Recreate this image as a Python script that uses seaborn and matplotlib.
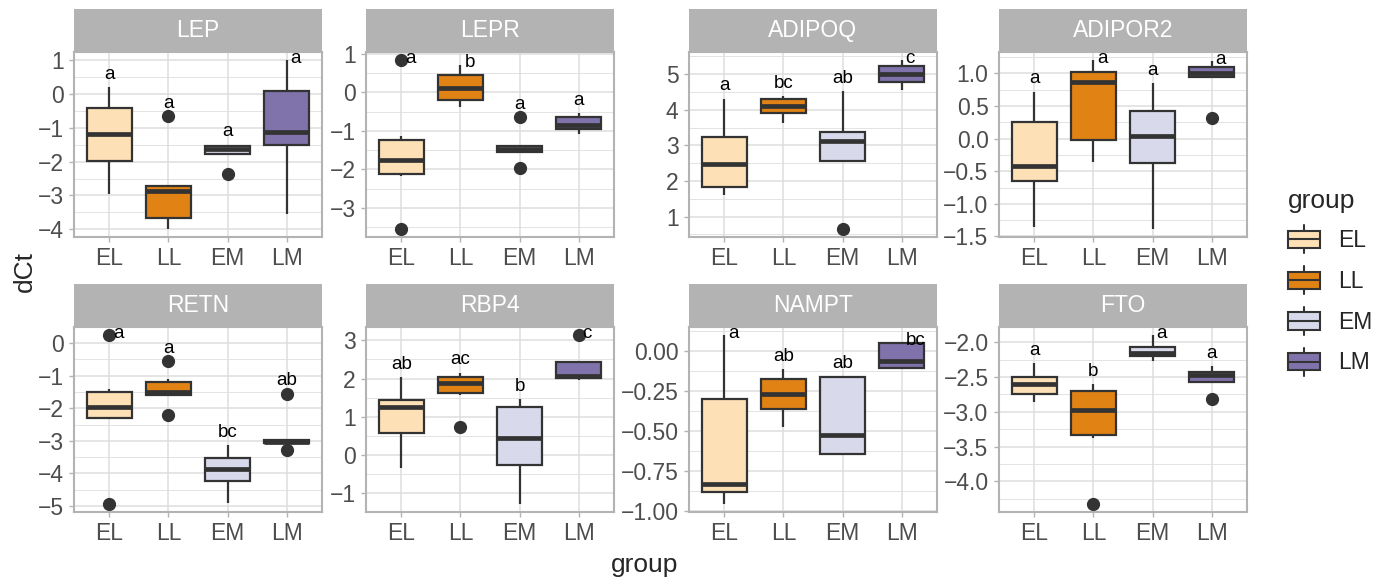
import pandas as pd
import matplotlib
matplotlib.use("Agg")
import matplotlib.pyplot as plt
import seaborn as sns
from matplotlib.patches import Patch, Rectangle
from matplotlib.lines import Line2D
from matplotlib.legend_handler import HandlerBase
from matplotlib.ticker import MultipleLocator, FuncFormatter

groups = ["EL", "LL", "EM", "LM"]
colors = ["#fee0b6", "#e08214", "#d8daeb", "#8073ac"]
genes = ["LEP", "LEPR", "ADIPOQ", "ADIPOR2", "RETN", "RBP4", "NAMPT", "FTO"]

# dCt values per gene, one list per group (EL, LL, EM, LM)
LEP = [[-2.95, -1.97, -1.18, -0.4, 0.2],
       [-3.98, -3.68, -2.87, -2.72, -0.65],
       [-2.35, -1.77, -1.62, -1.53, -1.5],
       [-3.55, -1.5, -1.13, 0.08, 1.0]]
LEPR = [[-3.54, -2.17, -2.13, -1.95, -1.77, -1.5, -1.25, -1.13, 0.83],
        [-0.38, -0.2, 0.11, 0.44, 0.72],
        [-1.97, -1.54, -1.47, -1.39, -0.65],
        [-1.07, -0.96, -0.85, -0.64, -0.54]]
ADIPOQ = [[1.6, 1.84, 2.48, 3.23, 4.31],
          [3.64, 3.91, 4.1, 4.3, 4.39],
          [0.66, 2.57, 3.12, 3.39, 4.53],
          [4.57, 4.77, 5.0, 5.22, 5.39]]
ADIPOR2 = [[-1.35, -0.65, -0.42, 0.26, 0.72],
           [-0.36, -0.02, 0.87, 1.02, 1.2],
           [-1.38, -0.37, 0.04, 0.42, 0.85],
           [0.32, 0.95, 1.0, 1.1, 1.19]]
RETN = [[-4.93, -2.33, -2.3, -2.1, -1.96, -1.7, -1.51, -1.42, 0.24],
        [-2.22, -1.58, -1.58, -1.53, -1.49, -1.3, -1.19, -1.11, -0.56],
        [-4.9, -4.23, -3.87, -3.53, -3.14],
        [-3.28, -3.08, -3.03, -2.98, -1.55]]
RBP4 = [[-0.35, 0.57, 1.25, 1.44, 2.04],
        [0.72, 1.58, 1.61, 1.75, 1.89, 1.95, 2.03, 2.12, 2.15],
        [-1.28, -0.26, 0.45, 1.25, 1.45],
        [1.95, 2.02, 2.07, 2.43, 3.13]]
NAMPT = [[-0.956, -0.884, -0.836, -0.3, 0.095],
         [-0.475, -0.363, -0.27, -0.18, -0.115],
         [-0.643, -0.643, -0.525, -0.168, -0.16],
         [-0.111, -0.111, -0.065, 0.046, 0.053]]
FTO = [[-2.86, -2.74, -2.6, -2.5, -2.3],
       [-4.32, -3.37, -3.33, -3.15, -2.98, -2.8, -2.7, -2.64, -2.6],
       [-2.27, -2.2, -2.16, -2.07, -1.9],
       [-2.81, -2.565, -2.47, -2.425, -2.34]]

# significance letters
letters = {
    "LEP": ["a", "a", "a", "a"],
    "LEPR": ["a", "b", "a", "a"],
    "ADIPOQ": ["a", "bc", "ab", "c"],
    "ADIPOR2": ["a", "a", "a", "a"],
    "RETN": ["a", "a", "bc", "ab"],
    "RBP4": ["ab", "ac", "b", "c"],
    "NAMPT": ["a", "ab", "ab", "bc"],
    "FTO": ["a", "b", "a", "a"],
}
ystep = {"LEP": 1, "LEPR": 1, "ADIPOQ": 1, "ADIPOR2": 0.5,
         "RETN": 1, "RBP4": 1, "NAMPT": 0.25, "FTO": 0.5}

values = {"LEP": LEP, "LEPR": LEPR, "ADIPOQ": ADIPOQ, "ADIPOR2": ADIPOR2,
          "RETN": RETN, "RBP4": RBP4, "NAMPT": NAMPT, "FTO": FTO}
rows = []
for gene in genes:
    for g, vals in zip(groups, values[gene]):
        for v in vals:
            rows.append((gene, g, v))
df = pd.DataFrame(rows, columns=["gene", "group", "dCt"])

sns.set_style("white")
plt.rcParams["font.family"] = ["Liberation Sans", "DejaVu Sans"]

DARK = "#333333"
GREY70 = "#b3b3b3"
W, H = 1390, 580
fig = plt.figure(figsize=(W / 100, H / 100), dpi=100)

col_left = [74, 366, 689, 999]
row_top = [52, 327]
pw, ph, sh = 248, 185, 43


def tick_fmt(dec):
    return FuncFormatter(lambda v, p: f"{v:.{dec}f}".replace("-", "\u2212"))


for i, gene in enumerate(genes):
    r, c = divmod(i, 4)
    l, t = col_left[c], row_top[r]
    ax = fig.add_axes([l / W, 1 - (t + ph) / H, pw / W, ph / H])
    strip = fig.add_axes([l / W, 1 - t / H, pw / W, sh / H])

    sub = df[df["gene"] == gene]
    sns.boxplot(data=sub, x="group", y="dCt", hue="group", order=groups,
                hue_order=groups, palette=dict(zip(groups, colors)),
                saturation=1, width=0.75, linecolor=DARK, linewidth=1.6,
                showcaps=False, medianprops={"linewidth": 3.4},
                flierprops={"marker": "o", "markerfacecolor": DARK,
                            "markeredgecolor": DARK, "markersize": 8.5},
                legend=False, ax=ax)

    lo, hi = sub["dCt"].min(), sub["dCt"].max()
    pad = 0.05 * (hi - lo)
    ax.set_ylim(lo - pad, hi + pad)
    ax.set_xlim(-0.6, 3.6)
    rng = (hi + pad) - (lo - pad)

    step = ystep[gene]
    dec = 0 if step == 1 else len(str(step).split(".")[1])
    ax.yaxis.set_major_locator(MultipleLocator(step))
    ax.yaxis.set_minor_locator(MultipleLocator(step / 2))
    ax.yaxis.set_major_formatter(tick_fmt(dec))

    ax.set_axisbelow(True)
    ax.grid(which="major", color="#dedede", linewidth=1.1)
    ax.grid(which="minor", axis="y", color="#dedede", linewidth=0.6)
    ax.tick_params(which="major", bottom=True, left=True, length=3.5,
                   width=1, color=GREY70, labelsize=16.5,
                   labelcolor="#4d4d4d", pad=4)
    ax.tick_params(which="minor", length=0)
    ax.set_xlabel("")
    ax.set_ylabel("")
    for s in ax.spines.values():
        s.set_color(GREY70)
        s.set_linewidth(1.5)

    # letters above each group, pushed aside when they hit the top
    for j, lab in enumerate(letters[gene]):
        top = max(values[gene][j])
        y = top + 0.07 * rng
        if y > hi + pad - 0.06 * rng:
            ax.text(j + 0.07, top + 0.01 * rng, lab, ha="left", va="center",
                    fontsize=13.5, color="black")
        else:
            ax.text(j, y, lab, ha="center", va="center", fontsize=13.5,
                    color="black")

    strip.set_facecolor(GREY70)
    strip.set_xticks([])
    strip.set_yticks([])
    for s in strip.spines.values():
        s.set_visible(False)
    strip.text(0.5, 0.5, gene, color="white", fontsize=16.5, ha="center",
               va="center", transform=strip.transAxes)


class BoxKey(HandlerBase):
    def create_artists(self, legend, orig_handle, xdescent, ydescent,
                       width, height, fontsize, trans):
        x0, y0 = -xdescent, -ydescent
        cx, cy = x0 + width / 2, y0 + height / 2
        bh = height * 0.62
        whisk = Line2D([cx, cx], [y0, y0 + height], color=DARK, lw=1.5,
                       transform=trans)
        box = Rectangle((x0, cy - bh / 2), width, bh,
                        facecolor=orig_handle.get_facecolor(),
                        edgecolor=DARK, lw=1.5, transform=trans)
        med = Line2D([x0, x0 + width], [cy, cy], color=DARK, lw=1.5,
                     transform=trans)
        return [whisk, box, med]


handles = [Patch(facecolor=col, edgecolor=DARK) for col in colors]
fig.legend(handles, groups, handler_map={Patch: BoxKey()}, loc="upper left",
           bbox_to_anchor=(1267 / W, 1 - 168 / H), frameon=False,
           title="group", title_fontsize=19, fontsize=16.5,
           handlelength=1.4, handleheight=1.5, labelspacing=0.56,
           handletextpad=0.8, alignment="left")

fig.text(645 / W, 1 - 565 / H, "group", ha="center", va="center", fontsize=19)
fig.text(25 / W, 1 - 272 / H, "dCt", ha="center", va="center", fontsize=19,
         rotation=90)

fig.savefig("out.png", dpi=100)
